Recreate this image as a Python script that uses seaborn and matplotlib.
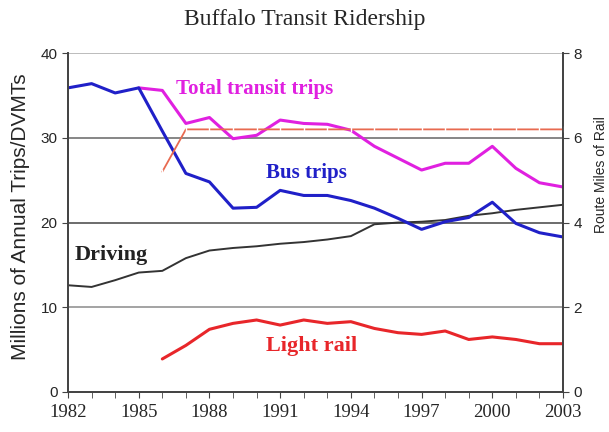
import numpy as np
import pandas as pd
import seaborn as sns
import matplotlib.pyplot as plt

# Datos
years = list(range(1982, 2004))
nan = np.nan
bus = [35.9, 36.4, 35.3, 35.9, 30.8, 25.8, 24.8, 21.7, 21.8, 23.8, 23.2,
       23.2, 22.6, 21.7, 20.5, 19.2, 20.1, 20.6, 22.4, 19.9, 18.8, 18.3]
total = [nan, nan, nan, 35.9, 35.6, 31.7, 32.4, 29.9, 30.3, 32.1, 31.7,
         31.6, 30.9, 29.0, 27.6, 26.2, 27.0, 27.0, 29.0, 26.4, 24.7, 24.2]
driving = [12.6, 12.4, 13.2, 14.1, 14.3, 15.8, 16.7, 17.0, 17.2, 17.5, 17.7,
           18.0, 18.4, 19.8, 20.0, 20.1, 20.3, 20.8, 21.1, 21.5, 21.8, 22.1]
light_rail = [nan, nan, nan, nan, 3.9, 5.5, 7.4, 8.1, 8.5, 7.9, 8.5,
              8.1, 8.3, 7.5, 7.0, 6.8, 7.2, 6.2, 6.5, 6.2, 5.7, 5.7]
route_miles = [nan, nan, nan, nan, 5.2, 6.2, 6.2, 6.2, 6.2, 6.2, 6.2,
               6.2, 6.2, 6.2, 6.2, 6.2, 6.2, 6.2, 6.2, 6.2, 6.2, 6.2]

datos = pd.DataFrame({'Año': years, 'Bus': bus, 'Total': total,
                      'Driving': driving, 'Light rail': light_rail,
                      'Route miles': route_miles})

sns.set_style("white")
plt.rcParams['font.family'] = ['Liberation Serif', 'DejaVu Serif']
sans = ['Liberation Sans', 'DejaVu Sans']

fig = plt.figure(figsize=(6.09, 4.32), dpi=100)
ax = fig.add_axes([0.1117, 0.0926, 0.8128, 0.7844])
ax2 = ax.twinx()

# líneas horizontales de referencia
for y, c in [(10, '#8a8a8a'), (20, '#444444'), (30, '#666666'), (40, '#aaaaaa')]:
    ax.axhline(y, color=c, lw=1.1, zorder=0)

sns.lineplot(data=datos, x='Año', y='Driving', ax=ax, color='#333333', lw=1.4)
sns.lineplot(data=datos, x='Año', y='Light rail', ax=ax, color='#e8262a', lw=2.2)
sns.lineplot(data=datos, x='Año', y='Total', ax=ax, color='#e020e0', lw=2.2)
sns.lineplot(data=datos, x='Año', y='Bus', ax=ax, color='#2020c8', lw=2.2)
sns.lineplot(data=datos, x='Año', y='Route miles', ax=ax2, color='#e86a50',
             lw=1.3, marker='|', markersize=5, markeredgewidth=1)

ax.set_xlim(1982, 2003)
ax.set_ylim(0, 40)
ax2.set_ylim(0, 8)
ax.set_xticks(range(1982, 2004, 3))
ax.set_xticks(range(1982, 2004), minor=True)
ax.set_yticks([0, 10, 20, 30, 40])
ax2.set_yticks([0, 2, 4, 6, 8])
ax.tick_params(axis='both', which='both', direction='out', length=4,
               color='#444444', bottom=True, left=True)
ax.tick_params(axis='x', labelsize=13.5, pad=5)
ax.tick_params(axis='y', labelsize=11)
ax2.tick_params(axis='y', direction='out', length=4, color='#444444',
                labelsize=11, right=True)
for lab in ax.get_yticklabels() + ax2.get_yticklabels():
    lab.set_family(sans)

for a in (ax, ax2):
    a.spines['top'].set_visible(False)
    for s in ('left', 'right', 'bottom'):
        a.spines[s].set_color('#444444')
        a.spines[s].set_linewidth(1.3)

ax.set_xlabel('')
ax.set_ylabel('')
ax2.set_ylabel('')
fig.text(21 / 609, 1 - 217 / 432, 'Millions of Annual Trips/DVMTs',
         rotation=90, ha='center', va='center', fontsize=15, family=sans)
fig.text(601 / 609, 1 - 175 / 432, 'Route Miles of Rail',
         rotation=90, ha='center', va='center', fontsize=10, family=sans)

# Etiquetas de las series
ax.text(1986.6, 35.8, 'Total transit trips', color='#e020e0', fontsize=15,
        fontweight='bold', va='center')
ax.text(1990.4, 25.8, 'Bus trips', color='#2020c8', fontsize=15,
        fontweight='bold', va='center')
ax.text(1982.3, 16.2, 'Driving', color='#222222', fontsize=16,
        fontweight='bold', va='center')
ax.text(1990.4, 5.4, 'Light rail', color='#e8262a', fontsize=16,
        fontweight='bold', va='center')

fig.text(0.5, 1 - 20 / 432, 'Buffalo Transit Ridership', fontsize=17,
         ha='center', va='center')

plt.savefig('out.png', dpi=100)
